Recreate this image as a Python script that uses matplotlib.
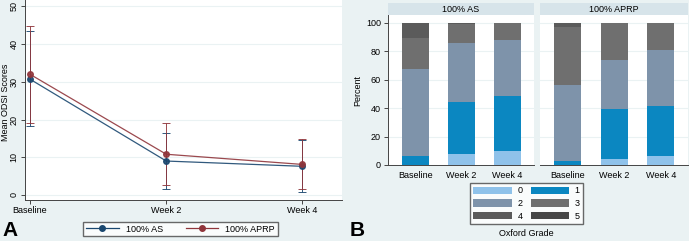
import matplotlib
matplotlib.use("Agg")
import matplotlib.pyplot as plt
import numpy as np
from matplotlib.patches import Rectangle
from matplotlib.lines import Line2D

# panel A data
visits = ["Baseline", "Week 2", "Week 4"]
as_mean = [30.7, 9.0, 7.6]
as_lo = [18.2, 1.6, 0.8]
as_hi = [43.4, 16.5, 14.6]
aprp_mean = [32.0, 10.8, 8.1]
aprp_lo = [19.2, 2.6, 1.5]
aprp_hi = [44.7, 19.0, 14.8]

# panel B data: percent per Oxford grade (0..5) for each visit
grades = ["0", "1", "2", "3", "4", "5"]
grade_colors = ["#8fc2ea", "#0b87c1", "#7e93aa", "#6f6f6f", "#5b5b5b", "#474747"]
as_pct = {
    "Baseline": [0, 6.0, 61.5, 22.0, 10.5, 0],
    "Week 2": [8.0, 36.0, 41.5, 13.5, 1.0, 0],
    "Week 4": [9.5, 39.0, 39.0, 12.5, 0, 0],
}
aprp_pct = {
    "Baseline": [0, 3.0, 53.5, 40.5, 3.0, 0],
    "Week 2": [4.5, 34.5, 34.5, 26.5, 0, 0],
    "Week 4": [6.5, 35.0, 39.0, 19.5, 0, 0],
}

bg = "#eaf2f3"
W, H = 689, 241
FS = 6.5
fig = plt.figure(figsize=(W / 100, H / 100), dpi=100, facecolor=bg)
plt.rcParams["font.family"] = "Liberation Sans"

def box(x0, y0, x1, y1):
    return [x0 / W, 1 - y1 / H, (x1 - x0) / W, (y1 - y0) / H]

# ---------------- panel A ----------------
ax = fig.add_axes(box(25, 0, 342, 200))
ax.set_facecolor("white")
x = np.arange(len(visits))
navy, maroon = "#1a476f", "#90353b"
handles = []
for m, lo, hi, c, lab in [(as_mean, as_lo, as_hi, navy, "100% AS"),
                          (aprp_mean, aprp_lo, aprp_hi, maroon, "100% APRP")]:
    m = np.array(m)
    err = [m - np.array(lo), np.array(hi) - m]
    ax.errorbar(x, m, yerr=err, color=c, ecolor=c, lw=0.9, elinewidth=0.7,
                capsize=3, capthick=0.7, marker="o", ms=4, alpha=0.9)
    handles.append(Line2D([], [], color=c, lw=0.9, marker="o", ms=4, label=lab))
ax.set_xlim(-0.037, 2.29)
ax.set_ylim(-1.33, 51.7)
ax.set_xticks(x)
ax.set_xticklabels(visits, fontsize=FS)
ax.set_yticks(range(0, 51, 10))
ax.set_yticklabels([str(v) for v in range(0, 51, 10)], fontsize=FS, rotation=90, va="center")
ax.set_ylabel("Mean ODSI Scores", fontsize=FS)
ax.yaxis.set_label_coords(-14.5 / 317, 0.49)
ax.grid(axis="y", color=bg, lw=0.8)
ax.set_axisbelow(True)
for s in ["top", "right"]:
    ax.spines[s].set_visible(False)
for s in ["left", "bottom"]:
    ax.spines[s].set_color("#444444")
    ax.spines[s].set_linewidth(0.7)
ax.tick_params(length=3, width=0.7, colors="#444444", labelcolor="black", pad=1.5)
fig.legend(handles=handles, loc="center", bbox_to_anchor=(180.5 / W, 1 - 229 / H),
           ncol=2, fontsize=FS, frameon=True, fancybox=False, edgecolor="#444444",
           handlelength=3.6, columnspacing=2.5, borderpad=0.3, handletextpad=0.8,
           facecolor="white")
fig.text(2 / W, 1 - 240 / H, "A", fontsize=15, fontweight="bold", ha="left", va="bottom")

# ---------------- panel B ----------------
def stacked(ax, data, title, left_axis):
    ax.set_facecolor("white")
    pos = np.arange(len(visits))
    bottoms = np.zeros(len(visits))
    for g in range(len(grades)):
        vals = np.array([data[v][g] for v in visits])
        ax.bar(pos, vals, bottom=bottoms, width=0.58, color=grade_colors[g],
               label=grades[g], zorder=2)
        bottoms += vals
    ax.set_xlim(-0.59, 2.58)
    ax.set_ylim(0, 105.4)
    ax.set_xticks(pos)
    ax.set_xticklabels(visits, fontsize=FS)
    ax.set_yticks(range(0, 101, 20))
    ax.grid(axis="y", color=bg, lw=0.8, zorder=0)
    for s in ["top", "right"]:
        ax.spines[s].set_visible(False)
    ax.spines["bottom"].set_color("#444444")
    ax.spines["bottom"].set_linewidth(0.7)
    if left_axis:
        ax.spines["left"].set_color("#444444")
        ax.spines["left"].set_linewidth(0.7)
        ax.set_yticklabels([str(v) for v in range(0, 101, 20)], fontsize=FS)
        ax.set_ylabel("Percent", fontsize=FS, labelpad=3)
        ax.tick_params(axis="y", length=3, width=0.7, colors="#444444", labelcolor="black", pad=2)
    else:
        ax.spines["left"].set_visible(False)
        ax.tick_params(axis="y", length=0, labelleft=False)
    ax.tick_params(axis="x", length=0, pad=4, labelcolor="black")
    # strip header
    ax.add_patch(Rectangle((0, 1.0), 1, 12 / 150, transform=ax.transAxes,
                           facecolor="#d7e4ea", edgecolor="none", clip_on=False))
    ax.text(0.5, 1.0 + 6 / 150, title, transform=ax.transAxes, ha="center",
            va="center", fontsize=FS)

axb1 = fig.add_axes(box(388, 15, 534, 165))
stacked(axb1, as_pct, "100% AS", True)
axb2 = fig.add_axes(box(540, 15, 688, 165))
stacked(axb2, aprp_pct, "100% APRP", False)

bh, bl = axb1.get_legend_handles_labels()
order = [0, 2, 4, 1, 3, 5]
fig.legend([bh[i] for i in order], [bl[i] for i in order],
           loc="center", bbox_to_anchor=(526.5 / W, 1 - 203.5 / H), ncol=2,
           fontsize=FS, frameon=True, fancybox=False, edgecolor="#444444",
           handlelength=4.3, handleheight=0.9, labelspacing=0.4,
           columnspacing=0.9, borderpad=0.35, handletextpad=0.6,
           facecolor="white")
fig.text(526 / W, 1 - 234 / H, "Oxford Grade", fontsize=FS, ha="center", va="center")
fig.text(350 / W, 1 - 240 / H, "B", fontsize=15, fontweight="bold", ha="left", va="bottom")

fig.savefig("out.png", dpi=100, facecolor=bg)
